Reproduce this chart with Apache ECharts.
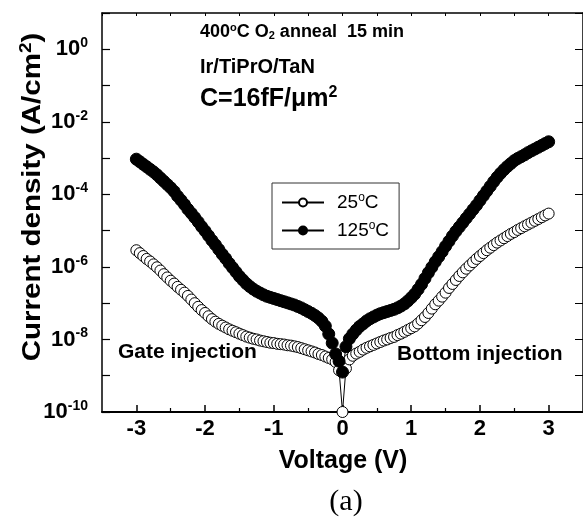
<!DOCTYPE html>
<html>
<head>
<meta charset="utf-8">
<script src="https://cdn.jsdelivr.net/npm/echarts@6/dist/echarts.min.js"></script>
<style>
  html, body { margin: 0; padding: 0; background: #fff; }
  #main { width: 583px; height: 519px; }
</style>
</head>
<body>
<div id="main"></div>
<script>
// voltage sweep (V)
var voltage = [
  -3.00, -2.95, -2.90, -2.85, -2.80, -2.75, -2.70, -2.65, -2.60, -2.55,
  -2.50, -2.45, -2.40, -2.35, -2.30, -2.25, -2.20, -2.15, -2.10, -2.05,
  -2.00, -1.95, -1.90, -1.85, -1.80, -1.75, -1.70, -1.65, -1.60, -1.55,
  -1.50, -1.45, -1.40, -1.35, -1.30, -1.25, -1.20, -1.15, -1.10, -1.05,
  -1.00, -0.95, -0.90, -0.85, -0.80, -0.75, -0.70, -0.65, -0.60, -0.55,
  -0.50, -0.45, -0.40, -0.35, -0.30, -0.25, -0.20, -0.15, -0.10, -0.05,
  0,
  0.05, 0.10, 0.15, 0.20, 0.25, 0.30, 0.35, 0.40, 0.45, 0.50,
  0.55, 0.60, 0.65, 0.70, 0.75, 0.80, 0.85, 0.90, 0.95, 1.00,
  1.05, 1.10, 1.15, 1.20, 1.25, 1.30, 1.35, 1.40, 1.45, 1.50,
  1.55, 1.60, 1.65, 1.70, 1.75, 1.80, 1.85, 1.90, 1.95, 2.00,
  2.05, 2.10, 2.15, 2.20, 2.25, 2.30, 2.35, 2.40, 2.45, 2.50,
  2.55, 2.60, 2.65, 2.70, 2.75, 2.80, 2.85, 2.90, 2.95, 3.00
];
// log10 of current density (A/cm2), 25 C
var logJ25 = [
  -5.54, -5.62, -5.70, -5.78, -5.85, -5.93, -6.01, -6.10, -6.20, -6.29,
  -6.38, -6.46, -6.55, -6.63, -6.71, -6.80, -6.90, -7.00, -7.10, -7.19,
  -7.27, -7.36, -7.44, -7.51, -7.57, -7.62, -7.67, -7.72, -7.76, -7.80,
  -7.84, -7.88, -7.92, -7.95, -7.98, -8.00, -8.03, -8.05, -8.07, -8.09,
  -8.10, -8.12, -8.13, -8.14, -8.16, -8.17, -8.19, -8.21, -8.24, -8.27,
  -8.30, -8.33, -8.36, -8.40, -8.43, -8.47, -8.51, -8.55, -8.62, -8.85,
  -10,
  -8.80, -8.55, -8.45, -8.39, -8.34, -8.28, -8.23, -8.19, -8.15, -8.11,
  -8.07, -8.03, -8.00, -7.96, -7.93, -7.88, -7.84, -7.79, -7.74, -7.69,
  -7.64, -7.56, -7.47, -7.38, -7.27, -7.15, -7.03, -6.93, -6.82, -6.71,
  -6.58, -6.47, -6.36, -6.25, -6.15, -6.05, -5.96, -5.87, -5.78, -5.70,
  -5.62, -5.54, -5.47, -5.40, -5.33, -5.27, -5.21, -5.15, -5.09, -5.04,
  -4.98, -4.93, -4.88, -4.83, -4.78, -4.73, -4.68, -4.63, -4.58, -4.53
];
// log10 of current density (A/cm2), 125 C
var logJ125 = [
  -3.03, -3.10, -3.17, -3.24, -3.31, -3.38, -3.46, -3.55, -3.64, -3.73,
  -3.82, -3.92, -4.05, -4.16, -4.28, -4.41, -4.52, -4.64, -4.76, -4.89,
  -5.01, -5.14, -5.27, -5.39, -5.52, -5.65, -5.77, -5.90, -6.02, -6.14,
  -6.26, -6.36, -6.46, -6.54, -6.61, -6.67, -6.72, -6.77, -6.81, -6.84,
  -6.87, -6.90, -6.93, -6.96, -6.99, -7.02, -7.05, -7.09, -7.13, -7.18,
  -7.23, -7.28, -7.34, -7.41, -7.50, -7.63, -7.85, -8.10, -8.40, -8.60,
  -8.90,
  -8.20, -7.98, -7.85, -7.74, -7.64, -7.57, -7.49, -7.43, -7.38, -7.33,
  -7.29, -7.26, -7.23, -7.20, -7.17, -7.13, -7.08, -7.02, -6.94, -6.85,
  -6.75, -6.62, -6.48, -6.32, -6.16, -6.01, -5.86, -5.72, -5.58, -5.43,
  -5.29, -5.15, -5.02, -4.90, -4.78, -4.66, -4.54, -4.42, -4.30, -4.17,
  -4.04, -3.91, -3.78, -3.65, -3.53, -3.42, -3.32, -3.23, -3.15, -3.07,
  -3.01, -2.96, -2.91, -2.85, -2.80, -2.75, -2.70, -2.65, -2.60, -2.55
];
var xMajorTicks = [-3, -2, -1, 0, 1, 2, 3];
var xMinorTicks = [-2.5, -1.5, -0.5, 0.5, 1.5, 2.5];

var FONT = '"Liberation Sans", Arial, sans-serif';

function pairs(logs) {
  var out = [];
  for (var i = 0; i < voltage.length; i++) {
    out.push([voltage[i], Math.pow(10, logs[i])]);
  }
  return out;
}

var myChart = echarts.init(document.getElementById('main'));

var option = {
  animation: false,
  backgroundColor: '#fff',
  grid: { left: 102, top: 13, width: 488, height: 399 },
  legend: {
    orient: 'vertical',
    left: 272,
    top: 183,
    padding: [9, 10, 9, 9],
    itemGap: 8,
    itemWidth: 42,
    itemHeight: 10,
    borderColor: '#333',
    borderWidth: 1,
    borderRadius: 0,
    formatter: function (name) {
      return '{g|}' + name.replace('o', '{s|o}');
    },
    textStyle: {
      fontFamily: FONT,
      fontSize: 19,
      color: '#000',
      rich: {
        g: { width: 8 },
        s: { fontFamily: FONT, fontSize: 12, color: '#000', padding: [0, 0, 9, 0] }
      }
    },
    data: ['25oC', '125oC']
  },
  xAxis: [
    {
      type: 'value',
      min: -3.5,
      max: 3.5,
      position: 'bottom',
      axisLine: { onZero: false, lineStyle: { color: '#000', width: 2 } },
      axisTick: { inside: true, length: 7, lineStyle: { color: '#000', width: 1.5 }, customValues: xMajorTicks },
      axisLabel: {
        customValues: xMajorTicks,
        margin: 6,
        fontFamily: FONT,
        fontWeight: 'bold',
        fontSize: 22,
        color: '#000'
      },
      splitLine: { show: false }
    },
    {
      type: 'value',
      min: -3.5,
      max: 3.5,
      position: 'bottom',
      axisLine: { show: false, onZero: false },
      axisTick: { inside: true, length: 4, lineStyle: { color: '#000', width: 1.2 }, customValues: xMinorTicks },
      axisLabel: { show: false },
      splitLine: { show: false }
    },
    {
      type: 'value',
      min: -3.5,
      max: 3.5,
      interval: 0.5,
      position: 'top',
      axisLine: { onZero: false, lineStyle: { color: '#000', width: 1.5 } },
      axisTick: { inside: true, length: 3, lineStyle: { color: '#000', width: 1 } },
      axisLabel: { show: false },
      splitLine: { show: false }
    }
  ],
  yAxis: [
    {
      type: 'log',
      logBase: 10,
      min: 1e-10,
      max: 10,
      interval: 1,
      splitNumber: 11,
      position: 'left',
      axisLine: { onZero: false, lineStyle: { color: '#000', width: 1.5 } },
      axisTick: { inside: true, length: 8, lineStyle: { color: '#000', width: 1.2 } },
      axisLabel: {
        margin: 14,
        fontFamily: FONT,
        fontWeight: 'bold',
        fontSize: 22,
        color: '#000',
        formatter: function (v) {
          var e = Math.round(Math.log(v) / Math.LN10);
          if (e % 2 !== 0) return '';
          return '{b|10}{s|' + e + '}';
        },
        rich: {
          b: { fontFamily: FONT, fontWeight: 'bold', fontSize: 22, color: '#000' },
          s: { fontFamily: FONT, fontWeight: 'bold', fontSize: 14, color: '#000', padding: [0, 0, 12, 0] }
        }
      },
      splitLine: { show: false }
    },
    {
      type: 'log',
      logBase: 10,
      min: 1e-10,
      max: 10,
      interval: 1,
      position: 'right',
      axisLine: { onZero: false, lineStyle: { color: '#000', width: 1.5 } },
      axisTick: { inside: true, length: 8 },
      axisLabel: { show: false },
      splitLine: { show: false }
    }
  ],
  graphic: [
    {
      type: 'text', x: 33, y: 197, rotation: Math.PI / 2, scaleX: 1.18,
      style: {
        text: 'Current density (A/cm{s|2})',
        font: 'bold 25px ' + FONT,
        fill: '#000', align: 'center', verticalAlign: 'middle',
        rich: { s: { font: 'bold 16px ' + FONT, fill: '#000', padding: [0, 0, 12, 0] } }
      }
    },
    {
      type: 'text', x: 343, y: 461,
      style: { text: 'Voltage (V)', font: 'bold 25px ' + FONT, fill: '#000', align: 'center', verticalAlign: 'middle' }
    },
    {
      type: 'text', x: 346, y: 502,
      style: { text: '(a)', font: '30px "Liberation Serif", "Times New Roman", serif', fill: '#000', align: 'center', verticalAlign: 'middle' }
    },
    {
      type: 'text', x: 200, y: 32,
      style: {
        text: '400{s|o}C O{d|2} anneal  15 min',
        font: 'bold 18px ' + FONT, fill: '#000', align: 'left', verticalAlign: 'middle',
        rich: {
          s: { font: 'bold 11px ' + FONT, fill: '#000', padding: [0, 0, 9, 0] },
          d: { font: 'bold 11px ' + FONT, fill: '#000', padding: [7, 0, 0, 0] }
        }
      }
    },
    {
      type: 'text', x: 200, y: 67,
      style: { text: 'Ir/TiPrO/TaN', font: 'bold 20px ' + FONT, fill: '#000', align: 'left', verticalAlign: 'middle' }
    },
    {
      type: 'text', x: 200, y: 99,
      style: {
        text: 'C=16fF/\u03bcm{s|2}',
        font: 'bold 25px ' + FONT, fill: '#000', align: 'left', verticalAlign: 'middle',
        rich: { s: { font: 'bold 16px ' + FONT, fill: '#000', padding: [0, 0, 12, 0] } }
      }
    },
    {
      type: 'text', x: 118, y: 352,
      style: { text: 'Gate injection', font: 'bold 21px ' + FONT, fill: '#000', align: 'left', verticalAlign: 'middle' }
    },
    {
      type: 'text', x: 397, y: 354,
      style: { text: 'Bottom injection', font: 'bold 21px ' + FONT, fill: '#000', align: 'left', verticalAlign: 'middle' }
    }
  ],
  series: [
    {
      name: '25oC',
      type: 'line',
      xAxisIndex: 0,
      yAxisIndex: 0,
      data: pairs(logJ25),
      symbol: 'circle',
      symbolSize: 11,
      showAllSymbol: true,
      lineStyle: { color: '#000', width: 1 },
      itemStyle: { color: '#fff', borderColor: '#000', borderWidth: 1 },
      clip: true
    },
    {
      name: '125oC',
      type: 'line',
      xAxisIndex: 0,
      yAxisIndex: 0,
      data: pairs(logJ125),
      symbol: 'circle',
      symbolSize: 12,
      showAllSymbol: true,
      lineStyle: { color: '#000', width: 1 },
      itemStyle: { color: '#000', borderColor: '#000', borderWidth: 1 },
      clip: true
    }
  ]
};

myChart.setOption(option);
</script>
</body>
</html>
